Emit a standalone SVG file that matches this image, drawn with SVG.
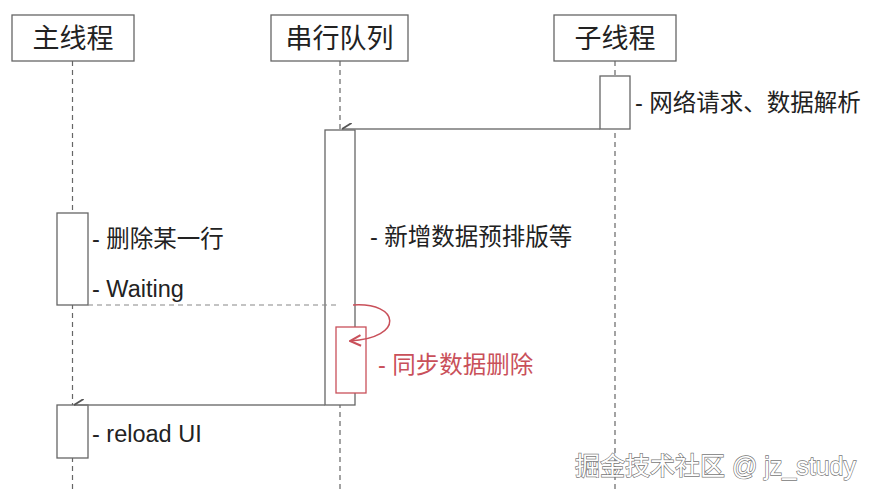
<svg xmlns="http://www.w3.org/2000/svg" width="878" height="498" viewBox="0 0 878 498">
<defs>
<style>
.box{fill:#fff;stroke:#666;stroke-width:1.3}
.life{stroke:#666;stroke-width:1.2;stroke-dasharray:5,4;fill:none}
.t{font-family:"Liberation Sans","Noto Sans CJK SC",sans-serif;fill:#222}
.title{font-size:27px;text-anchor:middle}
.lbl{font-size:23.5px}
.msg{stroke:#777;stroke-width:1.5;fill:none}
.red{stroke:#c9505a;fill:none;stroke-width:1.5}
</style>
<marker id="ah" viewBox="0 0 10 10" refX="9" refY="5" markerWidth="8" markerHeight="8" orient="auto">
<path d="M9,5 L1,10" stroke="#555" stroke-width="1.5" fill="none"/>
</marker>
<marker id="rah" viewBox="0 0 10 10" refX="9" refY="5" markerWidth="9" markerHeight="9" orient="auto">
<path d="M1,1 L9,5 L1,9" stroke="#c9505a" stroke-width="1.5" fill="none"/>
</marker>
</defs>
<rect width="878" height="498" fill="#fff"/>
<g id="lifelines">
<line class="life" x1="72.5" y1="61" x2="72.5" y2="492"/>
<line class="life" x1="340" y1="61" x2="340" y2="492"/>
<line class="life" x1="615" y1="61" x2="615" y2="492"/>
</g>
<g id="main-thread">
<rect class="box" x="12" y="15" width="122" height="46"/>
<text class="t title" x="73" y="48">主线程</text>
</g>
<g id="serial-queue">
<rect class="box" x="271" y="15" width="137" height="46"/>
<text class="t title" x="339.5" y="48">串行队列</text>
</g>
<g id="sub-thread">
<rect class="box" x="554" y="15" width="122" height="46"/>
<text class="t title" x="615" y="48">子线程</text>
</g>
<g id="sub-activation">
<rect class="box" x="600" y="76" width="30" height="53"/>
<text class="t lbl" x="635" y="111">- 网络请求、数据解析</text>
</g>
<g id="serial-activation">
<rect class="box" x="325" y="130" width="30" height="275"/>
<text class="t lbl" x="370" y="245">- 新增数据预排版等</text>
</g>
<g id="main-activation-1">
<rect class="box" x="57" y="213" width="31" height="92"/>
<text class="t lbl" x="92" y="247">- 删除某一行</text>
<text class="t lbl" x="92" y="297">- Waiting</text>
</g>
<g id="sync-delete">
<rect fill="#fff" stroke="#c9505a" stroke-width="1.3" x="336" y="327" width="30" height="66"/>
<text class="t lbl" x="378" y="373" style="fill:#c9505a">- 同步数据删除</text>
</g>
<g id="main-activation-2">
<rect class="box" x="57" y="405" width="31" height="53"/>
<text class="t lbl" x="92" y="442">- reload UI</text>
</g>
<g id="connectors">
<line class="msg" x1="600" y1="129" x2="342" y2="129" marker-end="url(#ah)"/>
<line x1="88" y1="305" x2="340" y2="305" stroke="#888" stroke-width="1.2" stroke-dasharray="5,4"/>
<path class="red" d="M353,305 C400,302 405,338 350,341" marker-end="url(#rah)"/>
<line class="msg" x1="325" y1="405" x2="74" y2="405" marker-end="url(#ah)"/>
</g>
<text x="575" y="475" style="font-family:'Liberation Sans','Noto Sans CJK SC',sans-serif;font-size:25px;fill:#fff;stroke:#777;stroke-width:1.3;paint-order:stroke">掘金技术社区 @ jz_study</text>
</svg>
